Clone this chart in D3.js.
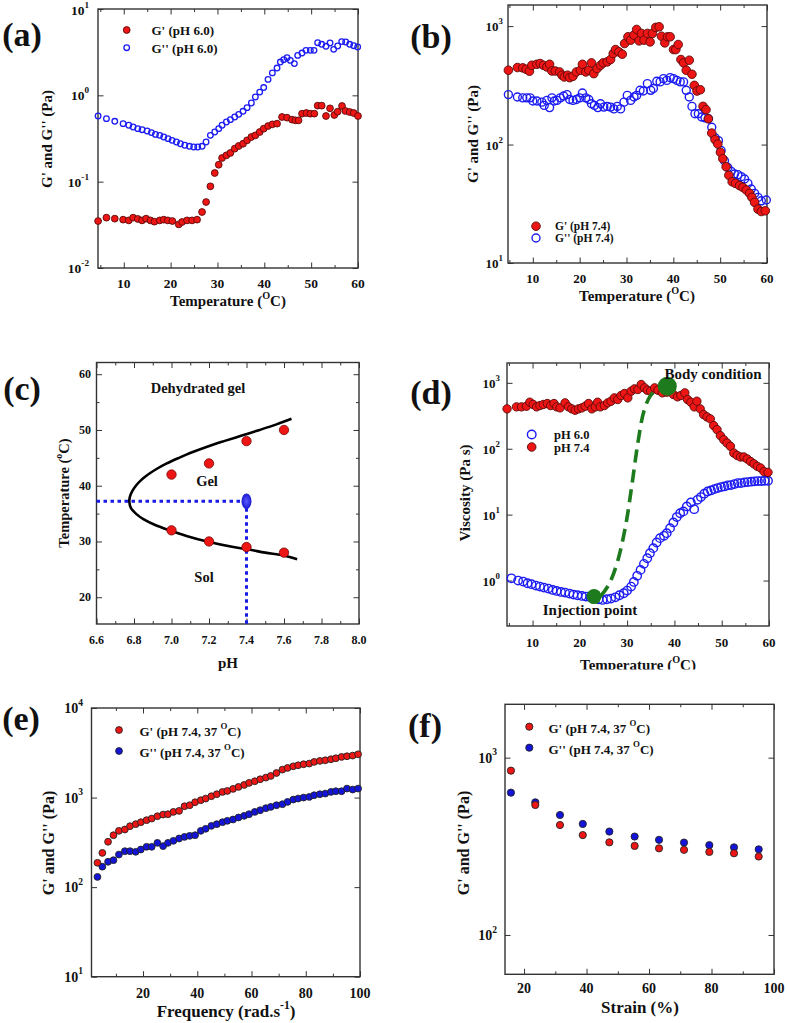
<!DOCTYPE html>
<html><head><meta charset="utf-8">
<script src="https://cdnjs.cloudflare.com/ajax/libs/d3/7.8.5/d3.min.js"></script>
<style>body{margin:0;background:#fff}svg{display:block}</style>
</head><body>
<script>
// ---------------- DATA ----------------
// (a) pH 6.0 temperature sweep: [T (°C), modulus (Pa)]
const aGp = [[4.52,0.035],[6.30,0.0383],[8.08,0.0373],[9.86,0.0363],[11.07,0.0356],[11.99,0.0383],[12.99,0.037],[13.91,0.0356],[14.77,0.0373],[15.69,0.0356],[16.54,0.0344],[17.68,0.0356],[18.53,0.0363],[19.39,0.0356],[20.38,0.035],[21.74,0.032],[22.45,0.0341],[23.51,0.0356],[24.58,0.0356],[25.65,0.0363],[26.71,0.0445],[27.57,0.0581],[28.49,0.0883],[29.42,0.126],[30.27,0.157],[30.98,0.188],[31.91,0.202],[32.76,0.215],[33.68,0.241],[34.54,0.259],[35.46,0.275],[36.32,0.301],[37.24,0.329],[38.09,0.344],[39.02,0.376],[39.87,0.411],[40.80,0.441],[41.72,0.461],[42.72,0.47],[43.78,0.561],[44.85,0.551],[45.92,0.523],[46.63,0.513],[47.3,0.513],[48.05,0.613],[48.98,0.624],[49.83,0.613],[50.68,0.613],[51.39,0.759],[52.25,0.759],[53.17,0.576],[54.03,0.707],[54.95,0.592],[55.66,0.647],[56.59,0.752],[57.30,0.659],[58.22,0.641],[59.08,0.624],[60.0,0.576]];
const aGpp = [[4.52,0.576],[6.30,0.537],[8.08,0.5],[9.86,0.47],[11.07,0.45],[11.99,0.43],[12.99,0.411],[13.91,0.4],[14.98,0.386],[15.90,0.37],[16.76,0.353],[17.68,0.344],[18.53,0.329],[19.46,0.315],[20.31,0.301],[21.24,0.288],[22.09,0.275],[23.02,0.264],[24.01,0.257],[24.94,0.252],[25.79,0.252],[26.71,0.257],[27.57,0.288],[28.49,0.344],[29.42,0.376],[30.27,0.411],[30.98,0.45],[31.91,0.491],[32.76,0.523],[33.68,0.561],[34.54,0.602],[35.46,0.653],[36.32,0.72],[37.24,0.815],[38.09,0.956],[39.02,1.09],[39.87,1.23],[40.80,1.53],[41.72,1.82],[42.72,2.07],[43.43,2.43],[44.14,2.59],[44.85,2.73],[45.56,2.54],[46.42,2.33],[47.13,2.9],[48.05,3.09],[48.90,3.32],[49.83,3.32],[50.61,3.32],[51.39,4.07],[52.25,3.9],[53.17,3.7],[54.03,4.04],[54.81,3.41],[55.66,3.73],[56.52,4.19],[57.37,4.15],[58.22,3.9],[59.08,3.76],[59.93,3.63]];
// (b) pH 7.4 temperature sweep
const bGp = [[4.78,424],[6.71,447],[7.85,444],[8.57,432],[9.28,416],[9.79,467],[10.86,476],[11.57,483],[12.29,467],[13.0,452],[13.58,476],[14.08,418],[14.79,418],[15.72,410],[16.22,385],[16.72,372],[17.44,385],[17.87,367],[18.58,377],[19.30,410],[20.16,424],[20.59,476],[21.30,410],[21.95,424],[22.52,489],[23.02,397],[23.73,438],[24.45,467],[25.02,489],[25.88,499],[26.60,522],[27.17,587],[27.67,634],[28.38,606],[29.10,579],[29.60,713],[30.31,812],[30.89,761],[31.60,840],[32.17,937],[32.68,751],[33.18,867],[33.75,761],[34.46,867],[35.04,736],[35.54,867],[36.25,975],[36.97,987],[37.47,822],[38.18,722],[38.76,812],[39.33,812],[40.04,634],[40.54,634],[41.04,699],[41.62,522],[42.19,489],[42.76,424],[43.40,515],[43.98,392],[44.48,316],[45.05,283],[45.77,290],[46.34,210],[46.98,197],[47.48,165],[48.20,125],[48.91,110],[49.49,101],[50.06,86],[50.56,76],[51.27,65],[51.85,55],[52.56,48.5],[53.28,47],[54.14,45],[54.85,43.5],[55.57,41.3],[56.28,38.7],[56.78,35.8],[57.35,32.5],[58.07,28.5],[58.78,27.2],[59.64,27.6]];
const bGpp = [[4.78,264],[6.71,252],[7.85,248],[8.71,248],[9.43,248],[10.0,233],[10.86,233],[11.93,228],[12.43,214],[13.0,236],[13.58,205],[14.08,248],[14.58,233],[15.15,236],[15.87,248],[16.58,257],[17.30,264],[17.87,240],[18.58,236],[19.30,240],[20.01,248],[20.59,272],[21.30,248],[21.95,240],[22.52,221],[23.16,214],[23.88,205],[24.45,221],[25.16,207],[25.88,210],[26.60,207],[27.31,200],[28.03,210],[28.74,200],[29.46,228],[30.17,260],[30.89,236],[31.60,252],[32.17,260],[32.89,287],[33.60,283],[34.46,327],[35.18,287],[35.75,297],[36.47,342],[37.18,338],[37.90,360],[38.61,348],[39.33,367],[40.04,360],[40.76,348],[41.47,338],[42.19,338],[42.76,287],[43.40,252],[43.98,210],[44.62,182],[45.34,182],[46.05,171],[46.77,168],[47.48,165],[48.20,140],[48.91,114],[49.63,108],[50.20,89],[50.92,73],[51.63,64],[52.35,59.4],[53.06,56.4],[53.78,55.7],[54.49,53.6],[55.21,51.2],[55.92,47],[56.64,42.1],[57.35,38.7],[58.07,35.8],[58.78,33.5],[59.86,34]];
// (c) phase diagram
const cPH = [7.0,7.2,7.4,7.6,7.0,7.2,7.4,7.6];
const cT  = [42,44,48,50,32,30,29,28];
// boundary read as [pH, T] from the upper end, round the tip, to the lower end
const cBoundary = [[7.64,52],[7.56,51],[7.47,50],[7.375,49],[7.28,48],[7.19,47],[7.11,46],[7.04,45],[6.975,44],[6.92,43],[6.875,42],[6.838,41],[6.81,40],[6.79,39],[6.778,38],[6.775,37.1],[6.784,36],[6.81,35],[6.85,34],[6.91,33],[6.99,32],[7.08,31],[7.19,30],[7.33,29],[7.42,28.5],[7.5,28],[7.6,27.5],[7.67,26.8]];
const cBody = [7.4, 37.2];
// (d) viscosity
const dPH74 = [[4.61,403],[6.60,432],[7.66,432],[8.72,442],[9.43,508],[10.14,469],[10.85,432],[11.56,452],[12.27,469],[13.12,485],[13.83,452],[14.54,485],[15.11,432],[15.82,417],[16.88,497],[17.59,432],[18.30,403],[19.01,384],[19.72,403],[20.43,417],[21.13,442],[21.84,485],[22.55,403],[23.26,432],[23.76,508],[24.33,432],[25.18,452],[25.89,497],[26.60,526],[27.30,591],[28.01,558],[28.72,642],[29.43,689],[30.14,591],[30.85,747],[31.56,811],[32.27,792],[32.98,943],[33.69,840],[34.26,773],[34.96,747],[35.82,840],[36.52,773],[37.45,705],[38.37,721],[39.08,773],[39.79,665],[40.64,613],[41.35,642],[42.20,705],[42.77,558],[43.48,508],[44.18,432],[44.75,526],[45.46,403],[46.17,330],[46.88,304],[47.59,284],[48.30,225],[49.01,195],[49.72,158],[50.43,137],[51.13,122],[51.84,109],[52.55,86],[53.26,79],[53.97,75],[54.68,75],[55.39,70],[56.10,64],[56.81,59],[57.52,54],[58.23,51],[58.94,45],[59.79,43.8]];
const dPH60 = [[5.53,1.08],[6.95,1.0],[8.01,0.965],[8.94,0.91],[9.79,0.879],[10.71,0.838],[11.56,0.809],[12.41,0.781],[13.33,0.755],[14.26,0.72],[15.11,0.695],[16.03,0.671],[16.88,0.656],[17.80,0.634],[18.65,0.612],[19.50,0.598],[20.43,0.584],[21.28,0.571],[22.20,0.557],[23.05,0.538],[23.97,0.52],[24.82,0.508],[25.74,0.52],[26.60,0.532],[27.52,0.557],[28.37,0.598],[29.29,0.641],[30.0,0.703],[30.85,0.809],[31.42,0.953],[32.13,1.18],[32.84,1.45],[33.55,1.79],[34.26,2.18],[34.82,2.6],[35.53,3.1],[36.24,3.78],[36.95,4.4],[37.80,4.77],[38.37,5.24],[39.08,6.24],[39.79,7.61],[40.50,9.18],[41.21,10.5],[41.91,11.2],[42.62,13.3],[43.48,15.3],[44.18,12.1],[44.89,16.8],[45.60,18.5],[46.31,20.8],[47.02,22.5],[47.73,23.3],[48.44,24.4],[49.15,25.3],[49.86,26.2],[50.57,26.8],[51.28,27.8],[51.99,28.1],[52.70,29.1],[53.40,30.1],[54.11,30.1],[54.82,30.9],[55.53,31.2],[56.24,31.6],[56.95,32.0],[57.66,32.3],[58.37,32.3],[59.08,32.7],[59.79,32.7]];
const dPath = [[24.33,0.57],[26.1,0.86],[27.87,1.83],[29.65,6.6],[31.06,30],[32.27,122],[33.55,371],[34.96,641],[36.74,840],[38.3,900]];
const dInjection = [23, 0.57];
const dBodyCond = [38.5, 890];
// (e) frequency sweep
const eFreq = [3.2,5.0,7.1,9.1,11.1,13.3,15.2,17.3,19.2,21.3,23.2,25.3,27.4,29.2,31.2,33.3,35.3,37.2,39.2,41.3,43.1,45.2,47.2,49.3,51.1,53.2,55.2,57.3,59.1,61.2,63.2,65.3,67.1,69.2,71.4,73.3,75.4,77.2,79.2,81.3,83.1,85.2,87.2,89.3,91.1,93.2,95.2,97.3,99.3];
const eGp = [187,241,321,380,425,440,479,505,531,559,583,619,646,652,692,710,800,821,887,934,975,1035,1090,1156,1186,1250,1315,1384,1458,1521,1601,1671,1744,1880,2052,2143,2235,2294,2355,2396,2500,2565,2609,2677,2747,2843,2893,2941,3043];
const eGpp = [130,169,192,200,231,252,252,248,263,282,282,312,287,312,329,349,364,374,380,425,448,483,505,531,550,569,599,625,652,692,722,761,787,821,843,895,950,975,1000,1017,1062,1090,1109,1157,1177,1177,1260,1228,1260];
// (f) strain sweep
const fStrain = [15.8,23.6,31.5,38.8,47.3,55.4,63.2,71.2,79.3,87.2,95.1];
const fGp = [845,541,417,366,333,318,308,302,294,289,277];
const fGpp = [635,560,475,423,383,359,344,332,321,312,304];
// tick labels
const tempTicks = [10,20,30,40,50,60];
const pHTicks = [6.6,6.8,7.0,7.2,7.4,7.6,7.8,8.0];
const cTempTicks = [20,30,40,50,60];
const aDecades = [-2,-1,0,1];
const bDecades = [1,2,3];
const dDecades = [0,1,2,3];
const eDecades = [1,2,3,4];
const fDecades = [2,3];
const pctTicks = [20,40,60,80,100];

// ---------------- DRAWING ----------------
const FONT = '"Liberation Serif","Times New Roman",Times,serif';
const RED = "#ee1515", REDS = "#5a0a0a", BLUE = "#1c1cf2", BLUEF = "#1414d8";
const svg = d3.select("body").append("svg").attr("width",787).attr("height",1023);

function rich(g, x, y, parts, size, anchor, rot) {
  const t = g.append("text").attr("x",x).attr("y",y)
    .attr("font-family",FONT).attr("font-weight","bold").attr("font-size",size)
    .attr("text-anchor",anchor||"middle").attr("dominant-baseline","central").attr("fill","#111");
  if (rot) t.attr("transform",`rotate(-90,${x},${y})`);
  let up = false;
  (typeof parts === "string" ? [parts] : parts).forEach(p => {
    const sup = typeof p === "object";
    const s = t.append("tspan").text(sup ? p.s : p);
    if (sup) { s.attr("font-size", size*0.68); if (!up) s.attr("dy", -size*0.38); up = true; }
    else if (up) { s.attr("dy", size*0.38); up = false; }
  });
  return t;
}

function panel(c) {
  const x = d3.scaleLinear().domain(c.xDom).range([c.x0, c.x1]);
  const y = (c.log ? d3.scaleLog() : d3.scaleLinear()).domain(c.yDom).range([c.y1, c.y0]);
  const g = svg.append("g").attr("color","#333");
  const ax = (gen, tr, vals, len) => g.append("g").attr("transform", tr)
      .call(gen.tickValues(vals).tickSize(len).tickFormat(""))
      .call(s => { s.select(".domain").remove(); s.selectAll("line").attr("stroke-width",1); });
  [[c.xMinor||[],3],[c.xMajor,5.5]].forEach(([v,l]) => {
    ax(d3.axisBottom(x), `translate(0,${c.y1})`, v, -l);
    ax(d3.axisTop(x), `translate(0,${c.y0})`, v, -l);
  });
  [[c.yMinor||[],3],[c.yMajor,5.5]].forEach(([v,l]) => {
    ax(d3.axisLeft(y), `translate(${c.x0},0)`, v, -l);
    ax(d3.axisRight(y), `translate(${c.x1},0)`, v, -l);
  });
  g.append("rect").attr("x",c.x0).attr("y",c.y0).attr("width",c.x1-c.x0).attr("height",c.y1-c.y0)
    .attr("fill","none").attr("stroke","#333").attr("stroke-width",1.4);
  c.xLabels.forEach(v => rich(g, x(v), c.xLabY, c.xFmt ? c.xFmt(v) : String(v), c.tickSize, "middle"));
  c.yLabels.forEach(v => rich(g, c.yLabX, Math.max(y(c.log ? Math.pow(10, v) : v), c.yLabMin || 0),
      c.log ? ["10", {s: String(v)}] : String(v), c.tickSize, "end"));
  rich(g, c.xTitle[0], c.xTitle[1], c.xTitle[2], c.xTitle[3], "middle");
  rich(g, c.yTitle[0], c.yTitle[1], c.yTitle[2], c.yTitle[3], "middle", true);
  rich(g, c.tag[0], c.tag[1], c.tag[2], 34, "middle");
  return {g, x, y};
}
function dots(p, data, r, fill, stroke, sw) {
  p.g.append("g").selectAll("circle").data(data).join("circle")
    .attr("cx", d => p.x(d[0])).attr("cy", d => p.y(d[1])).attr("r", r)
    .attr("fill", fill).attr("stroke", stroke).attr("stroke-width", sw);
}
const tempMinor = [5,15,25,35,45,55];
const decs = a => a.map(v => Math.pow(10, v));
const degC = ["Temperature (", {s:"O"}, "C)"];

// ---- (a)
const A = panel({x0:98,x1:358,y0:9,y1:268,xDom:[4.5,60],yDom:[0.01,10],log:true,yLabMin:10,
  xMajor:tempTicks,xMinor:tempMinor,yMajor:decs(aDecades),xLabels:tempTicks,yLabels:aDecades,
  xLabY:283,yLabX:89,tickSize:13.5,xTitle:[228,301,degC,15],yTitle:[47,139,"G' and G'' (Pa)",15],tag:[22,34,"(a)"]});
dots(A, aGpp, 2.8, "none", BLUE, 1.3);
dots(A, aGp, 3.4, RED, REDS, 0.9);
A.g.append("circle").attr("cx",126.7).attr("cy",30).attr("r",3.4).attr("fill",RED).attr("stroke",REDS).attr("stroke-width",0.9);
A.g.append("circle").attr("cx",126.7).attr("cy",47.7).attr("r",2.8).attr("fill","none").attr("stroke",BLUE).attr("stroke-width",1.3);
rich(A.g,151.5,30,"G' (pH 6.0)",13,"start");
rich(A.g,151.5,47.7,"G'' (pH 6.0)",13,"start");

// ---- (b)
const B = panel({x0:508,x1:767,y0:5,y1:263,xDom:[4.7,60],yDom:[10,1507],log:true,
  xMajor:tempTicks,xMinor:tempMinor,yMajor:decs(bDecades),xLabels:tempTicks,yLabels:bDecades,
  xLabY:278,yLabX:503,tickSize:13,xTitle:[637,296,degC,15],yTitle:[473,134,"G' and G'' (Pa)",15],tag:[431,36,"(b)"]});
dots(B, bGpp, 4, "none", BLUE, 1.4);
dots(B, bGp, 4.3, RED, REDS, 0.9);
B.g.append("circle").attr("cx",536).attr("cy",226.2).attr("r",4.3).attr("fill",RED).attr("stroke",REDS).attr("stroke-width",0.9);
B.g.append("circle").attr("cx",536).attr("cy",238).attr("r",4).attr("fill","none").attr("stroke",BLUE).attr("stroke-width",1.4);
rich(B.g,555,226.2,"G' (pH 7.4)",11.5,"start");
rich(B.g,555,238,"G'' (pH 7.4)",11.5,"start");

// ---- (c)
const C = panel({x0:96.5,x1:359,y0:362.5,y1:624,xDom:[6.6,8.0],yDom:[15.2,62.1],log:false,
  xMajor:pHTicks,xMinor:[6.7,6.9,7.1,7.3,7.5,7.7,7.9],yMajor:cTempTicks,yMinor:[25,35,45,55],
  xLabels:pHTicks,xFmt:v=>v.toFixed(1),yLabels:cTempTicks,xLabY:640,yLabX:91,tickSize:12,
  xTitle:[228,663,"pH",15],yTitle:[64,493,["Temperature (",{s:"o"},"C)"],14.5],tag:[22,388,"(c)"]});
const defs = svg.append("defs");
const rg = defs.append("radialGradient").attr("id","blueBlob");
rg.append("stop").attr("offset","0%").attr("stop-color","#5a5aff");
rg.append("stop").attr("offset","100%").attr("stop-color","#1a1ad0");
C.g.append("path").attr("d", d3.line().x(d=>C.x(d[0])).y(d=>C.y(d[1])).curve(d3.curveCatmullRom)(cBoundary))
  .attr("fill","none").attr("stroke","#000").attr("stroke-width",2.6);
C.g.append("path").attr("d", d3.line()([[C.x(6.6),C.y(cBody[1])],[C.x(cBody[0]),C.y(cBody[1])]]))
  .attr("stroke","#1a1ae8").attr("stroke-width",3).attr("stroke-dasharray","3.5,3.5");
C.g.append("path").attr("d", d3.line()([[C.x(cBody[0]),C.y(cBody[1])],[C.x(cBody[0]),C.y(15.2)]]))
  .attr("stroke","#1a1ae8").attr("stroke-width",3).attr("stroke-dasharray","3.5,3.5");
C.g.selectAll("circle.pt").data(cPH).join("circle").attr("class","pt")
  .attr("cx",(d)=>C.x(d)).attr("cy",(d,i)=>C.y(cT[i])).attr("r",4.7)
  .attr("fill",RED).attr("stroke","#7a0a0a").attr("stroke-width",0.8);
C.g.append("ellipse").attr("cx",C.x(cBody[0])).attr("cy",C.y(cBody[1])).attr("rx",5).attr("ry",7.8).attr("fill","url(#blueBlob)");
rich(C.g,198,388,"Dehydrated gel",14.5,"middle");
rich(C.g,207,481,"Gel",14.5,"middle");
rich(C.g,204,577,"Sol",14.5,"middle");

// ---- (d)
const D = panel({x0:507,x1:769,y0:363,y1:626,xDom:[4.6,60],yDom:[0.2042,2000],log:true,
  xMajor:tempTicks,xMinor:tempMinor,yMajor:decs(dDecades),xLabels:tempTicks,yLabels:dDecades,
  xLabY:642,yLabX:500,tickSize:13,xTitle:[638,665,degC,15],yTitle:[465,493,"Viscosity (Pa s)",15],tag:[431,392,"(d)"]});
dots(D, dPH60, 4.2, "none", BLUE, 1.4);
dots(D, dPH74, 4.2, RED, REDS, 0.9);
D.g.append("path").attr("d", d3.line().x(d=>D.x(d[0])).y(d=>D.y(d[1])).curve(d3.curveCatmullRom)(dPath))
  .attr("fill","none").attr("stroke","#1d7a1d").attr("stroke-width",3.6).attr("stroke-dasharray","13,7");
D.g.append("circle").attr("cx",D.x(dInjection[0])).attr("cy",D.y(dInjection[1])).attr("r",7.5).attr("fill","#1d7a1d");
D.g.append("circle").attr("cx",D.x(dBodyCond[0])).attr("cy",D.y(dBodyCond[1])).attr("r",9.5).attr("fill","#1d7a1d");
D.g.append("circle").attr("cx",531.7).attr("cy",434.5).attr("r",4.3).attr("fill","none").attr("stroke",BLUE).attr("stroke-width",1.4);
D.g.append("circle").attr("cx",531.7).attr("cy",447).attr("r",4.3).attr("fill",RED).attr("stroke",REDS).attr("stroke-width",0.9);
rich(D.g,554,434.5,"pH 6.0",12.5,"start");
rich(D.g,554,447.5,"pH 7.4",12.5,"start");
rich(D.g,713,374,"Body condition",15,"middle");
rich(D.g,590,610,"Injection point",15,"middle");
svg.append("rect").attr("x",560).attr("y",669.5).attr("width",160).attr("height",10).attr("fill","#fff");

// ---- (e)
const E = panel({x0:91.5,x1:360,y0:708,y1:976.7,xDom:[1,100],yDom:[10,10000],log:true,
  xMajor:pctTicks,xMinor:[10,30,50,70,90],yMajor:decs(eDecades),xLabels:[20,40,60,80,100],yLabels:eDecades,
  xLabY:993,yLabX:83,tickSize:14,xTitle:[226,1011,["Frequency (rad.s",{s:"-1"},")"],17],yTitle:[48,843,"G' and G'' (Pa)",16],tag:[21,718,"(e)"]});
dots(E, eFreq.map((f,i)=>[f,eGpp[i]]), 3.4, BLUEF, "#222", 0.9);
dots(E, eFreq.map((f,i)=>[f,eGp[i]]), 3.4, RED, "#222", 0.9);
E.g.append("circle").attr("cx",119).attr("cy",730).attr("r",3.4).attr("fill",RED).attr("stroke","#222").attr("stroke-width",0.9);
E.g.append("circle").attr("cx",119).attr("cy",751).attr("r",3.4).attr("fill",BLUEF).attr("stroke","#222").attr("stroke-width",0.9);
rich(E.g,139.5,731,["G' (pH 7.4, 37 ",{s:"O"},"C)"],13,"start");
rich(E.g,139.5,752,["G'' (pH 7.4, 37 ",{s:"O"},"C)"],13,"start");

// ---- (f)
const F = panel({x0:505,x1:774,y0:704.3,y1:974.3,xDom:[13.9,100],yDom:[60,2000],log:true,
  xMajor:pctTicks,xMinor:[30,50,70,90],yMajor:decs(fDecades),xLabels:pctTicks,yLabels:fDecades,
  xLabY:988,yLabX:497,tickSize:14,xTitle:[640,1006.5,"Strain (%)",17],yTitle:[463,843,"G' and G'' (Pa)",16],tag:[425,725,"(f)"]});
dots(F, fStrain.map((s,i)=>[s,fGpp[i]]), 3.6, BLUEF, "#222", 0.9);
dots(F, fStrain.map((s,i)=>[s,fGp[i]]), 3.6, RED, "#222", 0.9);
F.g.append("circle").attr("cx",529.3).attr("cy",726.7).attr("r",3.6).attr("fill",RED).attr("stroke","#222").attr("stroke-width",0.9);
F.g.append("circle").attr("cx",529.3).attr("cy",747.7).attr("r",3.6).attr("fill",BLUEF).attr("stroke","#222").attr("stroke-width",0.9);
rich(F.g,548.5,727.5,["G' (pH 7.4, 37 ",{s:"O"},"C)"],13,"start");
rich(F.g,548.5,748.5,["G'' (pH 7.4, 37 ",{s:"O"},"C)"],13,"start");
</script></body></html>
